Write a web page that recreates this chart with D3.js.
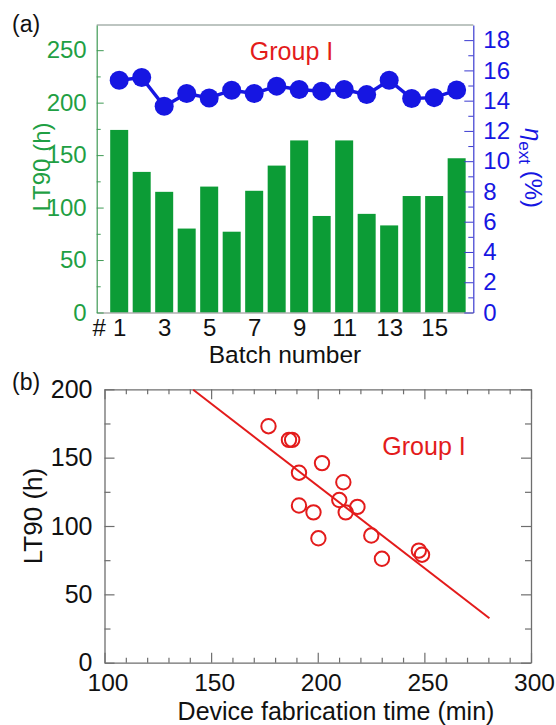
<!DOCTYPE html>
<html>
<head>
<meta charset="utf-8">
<script src="https://cdn.jsdelivr.net/npm/d3@7"></script>
<style>
  body { margin: 0; background: #fff; }
  text { font-family: "Liberation Sans", Arial, sans-serif; }
</style>
</head>
<body>
<div id="chart-area"></div>
<script>
// panel (a): LT90 per batch + EQE
const batches = [1, 2, 3, 4, 5, 6, 7, 8, 9, 10, 11, 12, 13, 14, 15, 16];
const lt90 = [174, 134, 115, 80, 120, 77, 116, 140, 164, 92, 164, 94, 83, 111, 111, 147];
const eqe = [15.35, 15.53, 13.63, 14.47, 14.18, 14.69, 14.47, 14.96, 14.74, 14.63, 14.74, 14.40, 15.35, 14.14, 14.20, 14.70];
const batchTicks = [0, 1, 3, 5, 7, 9, 11, 13, 15];
const lt90TicksA = [0, 50, 100, 150, 200, 250];
const lt90MinorA = [25, 75, 125, 175, 225];
const eqeTicks = [0, 2, 4, 6, 8, 10, 12, 14, 16, 18];
const eqeMinor = [1, 3, 5, 7, 9, 11, 13, 15, 17];

// panel (b): LT90 vs fabrication time
const fabTime = [176.9, 186.5, 188.0, 202.0, 191.2, 212.0, 210.1, 218.6, 191.2, 213.1, 198.0, 200.3, 225.1, 247.4, 248.9, 230.1];
const lt90B = [173, 163, 163, 146, 139, 132, 119, 114, 115, 110, 110, 91, 93, 82, 79, 76];
const timeTicks = [100, 150, 200, 250, 300];
const timeMinor = [110, 120, 130, 140, 160, 170, 180, 190, 210, 220, 230, 240, 260, 270, 280, 290];
const lt90TicksB = [0, 50, 100, 150, 200];
const lt90MinorB = [25, 75, 125, 175];
const fitRange = [141.6, 280.5];
const fitSlope = -1.203;
const fitIntercept = 370.0;

const green = "#0c9c36", greenText = "#1f9f44", blue = "#1616e2", red = "#e31b1b";

const svg = d3.select("#chart-area").append("svg")
    .attr("width", 556).attr("height", 725);

// ---------- panel (a) ----------
const a = {left: 96.7, right: 473.3, top: 25, bottom: 312.5};

const xA = d3.scaleLinear().domain([0, 16.74]).range([a.left, a.right]);
const yL = d3.scaleLinear().domain([0, 274]).range([a.bottom, a.top]);
const yR = d3.scaleLinear().domain([0, 19]).range([a.bottom, a.top]);

const gA = svg.append("g");

gA.selectAll("rect.bar").data(batches).enter().append("rect")
    .attr("class", "bar")
    .attr("x", (d) => xA(d) - 9)
    .attr("width", 18)
    .attr("y", (d, i) => yL(lt90[i]))
    .attr("height", (d, i) => yL(0) - yL(lt90[i]))
    .attr("fill", green);

// top border
gA.append("line").attr("x1", a.left).attr("x2", a.right).attr("y1", a.top).attr("y2", a.top)
    .attr("stroke", "#7c8c84").attr("stroke-width", 1.2);

const xAxisA = d3.axisBottom(xA).tickValues(batchTicks).tickSize(0).tickSizeOuter(0)
    .tickFormat(d => d === 0 ? "#" : d).tickPadding(6.5);
const gxA = gA.append("g").attr("transform", `translate(0,${a.bottom})`).call(xAxisA);
gxA.select(".domain").attr("stroke", "#8a8a8a").attr("stroke-width", 1.2);
gxA.selectAll("text").attr("font-size", 24).attr("fill", "#111");
gxA.selectAll(".tick").filter(d => d === 0).select("text").attr("dx", 2);

const yLeft = d3.axisLeft(yL).tickValues(lt90TicksA).tickSize(-7).tickSizeOuter(0).tickPadding(10);
const gyL = gA.append("g").attr("transform", `translate(${a.left},0)`).call(yLeft);
gyL.select(".domain").attr("stroke", "#3f9a55").attr("stroke-width", 1.2);
gyL.selectAll("line").attr("stroke", "#3f9a55");
gyL.selectAll("text").attr("font-size", 24).attr("fill", greenText);
gA.append("g").attr("transform", `translate(${a.left},0)`)
    .call(d3.axisLeft(yL).tickValues(lt90MinorA).tickSize(-4).tickFormat(""))
    .call(g => g.select(".domain").remove())
    .selectAll("line").attr("stroke", "#3f9a55");

const yRight = d3.axisRight(yR).tickValues(eqeTicks).tickSize(-9).tickSizeOuter(0).tickPadding(10);
const gyR = gA.append("g").attr("transform", `translate(${a.right},0)`).call(yRight);
gyR.select(".domain").attr("stroke", "#3a3ad0").attr("stroke-width", 1.2);
gyR.selectAll("line").attr("stroke", "#3a3ad0");
gyR.selectAll("text").attr("font-size", 24).attr("fill", blue);
gA.append("g").attr("transform", `translate(${a.right},0)`)
    .call(d3.axisRight(yR).tickValues(eqeMinor).tickSize(-5).tickFormat(""))
    .call(g => g.select(".domain").remove())
    .selectAll("line").attr("stroke", "#3a3ad0");

const eqeLine = d3.line().x((d) => xA(d)).y((d, i) => yR(eqe[i]));
gA.append("path").datum(batches)
    .attr("d", eqeLine)
    .attr("fill", "none").attr("stroke", blue).attr("stroke-width", 3.5);
gA.selectAll("circle.eqe").data(batches).enter().append("circle")
    .attr("class", "eqe")
    .attr("cx", (d) => xA(d))
    .attr("cy", (d, i) => yR(eqe[i]))
    .attr("r", 9.5)
    .attr("fill", blue);

gA.append("text").attr("x", 291.5).attr("y", 60).attr("text-anchor", "middle")
    .attr("font-size", 25).attr("fill", red).text("Group I");

gA.append("text").attr("transform", "translate(50,167) rotate(-90)")
    .attr("text-anchor", "middle").attr("font-size", 24).attr("fill", greenText)
    .text("LT90 (h)");

const rLabel = gA.append("text").attr("transform", "translate(525,168) rotate(90)")
    .attr("text-anchor", "middle").attr("font-size", 24).attr("fill", blue);
rLabel.append("tspan").attr("font-style", "italic").text("η");
rLabel.append("tspan").attr("font-size", 17).attr("dy", 6).text("ext");
rLabel.append("tspan").attr("dy", -6).text(" (%)");

gA.append("text").attr("x", 285).attr("y", 363).attr("text-anchor", "middle")
    .attr("font-size", 24.5).attr("fill", "#111").text("Batch number");

svg.append("text").attr("x", 12).attr("y", 32).attr("font-size", 23).attr("fill", "#111").text("(a)");

// ---------- panel (b) ----------
const b = {left: 104.5, right: 531, top: 389.3, bottom: 662.7};
const xB = d3.scaleLinear().domain([100, 300]).range([b.left, b.right]);
const yB = d3.scaleLinear().domain([0, 200]).range([b.bottom, b.top]);
const axisGray = "#6e6e6e";

const gB = svg.append("g");

const styleAxis = (size) => (g) => {
    g.select(".domain").attr("stroke", axisGray).attr("stroke-width", 1.3);
    g.selectAll("line").attr("stroke", axisGray).attr("stroke-width", 1.2);
    g.selectAll("text").attr("font-size", size).attr("fill", "#111");
};
const minorAxis = (axis, vals, size) => (g) => {
    g.call(axis.tickValues(vals).tickSize(size).tickFormat(""));
    g.select(".domain").remove();
    g.selectAll("line").attr("stroke", axisGray).attr("stroke-width", 1.2);
};

gB.append("g").attr("transform", `translate(0,${b.bottom})`)
    .call(d3.axisBottom(xB).tickValues(timeTicks).tickSize(-10).tickSizeOuter(0).tickPadding(11))
    .call(styleAxis(24.5))
    .selectAll("text").attr("dx", 3);
gB.append("g").attr("transform", `translate(0,${b.bottom})`).call(minorAxis(d3.axisBottom(xB), timeMinor, -5));
gB.append("g").attr("transform", `translate(0,${b.top})`)
    .call(d3.axisTop(xB).tickValues(timeTicks).tickSize(-10).tickSizeOuter(0).tickFormat(""))
    .call(styleAxis(25));
gB.append("g").attr("transform", `translate(0,${b.top})`).call(minorAxis(d3.axisTop(xB), timeMinor, -5));

gB.append("g").attr("transform", `translate(${b.left},0)`)
    .call(d3.axisLeft(yB).tickValues(lt90TicksB).tickSize(-10).tickSizeOuter(0).tickPadding(12))
    .call(styleAxis(25));
gB.append("g").attr("transform", `translate(${b.left},0)`).call(minorAxis(d3.axisLeft(yB), lt90MinorB, -6));
gB.append("g").attr("transform", `translate(${b.right},0)`)
    .call(d3.axisRight(yB).tickValues(lt90TicksB).tickSize(-10).tickSizeOuter(0).tickFormat(""))
    .call(styleAxis(25));
gB.append("g").attr("transform", `translate(${b.right},0)`).call(minorAxis(d3.axisRight(yB), lt90MinorB, -6));

// linear fit
gB.append("path").datum(fitRange)
    .attr("d", d3.line().x(d => xB(d)).y(d => yB(fitIntercept + fitSlope * d)))
    .attr("stroke", red).attr("stroke-width", 2).attr("fill", "none");

gB.selectAll("circle.pt").data(fabTime).enter().append("circle")
    .attr("class", "pt")
    .attr("cx", d => xB(d))
    .attr("cy", (d, i) => yB(lt90B[i]))
    .attr("r", 7.2)
    .attr("fill", "none").attr("stroke", red).attr("stroke-width", 2);

gB.append("text").attr("x", 424).attr("y", 455).attr("text-anchor", "middle")
    .attr("font-size", 25).attr("fill", red).text("Group I");

gB.append("text").attr("transform", "translate(42,516) rotate(-90)")
    .attr("text-anchor", "middle").attr("font-size", 26).attr("fill", "#111").text("LT90 (h)");

gB.append("text").attr("x", 336).attr("y", 719.5).attr("text-anchor", "middle")
    .attr("font-size", 25).attr("fill", "#111").text("Device fabrication time (min)");

svg.append("text").attr("x", 12).attr("y", 390).attr("font-size", 23).attr("fill", "#111").text("(b)");
</script>
</body>
</html>
